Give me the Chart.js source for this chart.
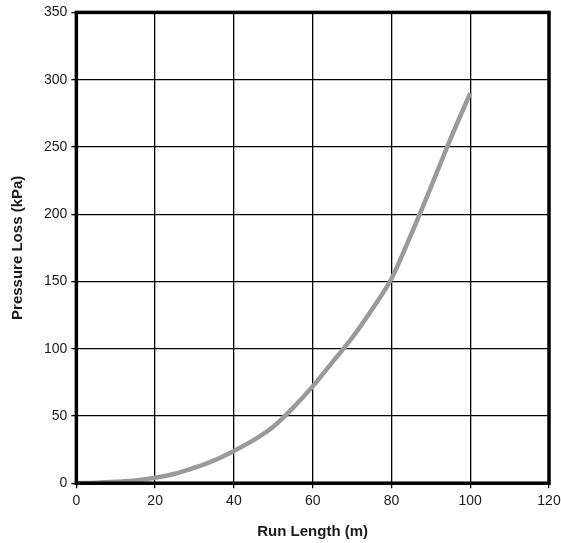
<!DOCTYPE html>
<html>
<head>
<meta charset="utf-8">
<script src="https://cdn.jsdelivr.net/npm/chart.js@4/dist/chart.umd.min.js"></script>
<style>
  html, body { margin: 0; padding: 0; background: #fff; }
  #wrap { width: 561px; height: 543px; }
</style>
</head>
<body>
<div id="wrap"><canvas id="chart"></canvas></div>
<script>
// run length (m) and pressure loss (kPa)
const runLength    = [0, 5, 10, 15, 20, 25, 30, 35, 40, 45, 50, 55, 60, 65, 70, 75, 80, 85, 90, 95, 100];
const pressureLoss = [0, 0.3, 1, 2, 4, 7, 11.5, 17, 24, 32, 42, 56, 72, 90, 108, 129, 152, 185, 220, 256, 290];
const xTicks = [0, 20, 40, 60, 80, 100, 120];
const yTicks = [0, 50, 100, 150, 200, 250, 300, 350];

const FONT = "'Liberation Sans', Arial, Helvetica, sans-serif";

// heavy black frame round the plot area
const frame = {
  id: 'frame',
  afterDraw(chart) {
    const { ctx, chartArea: a } = chart;
    ctx.save();
    ctx.strokeStyle = '#000';
    ctx.lineWidth = 3.5;
    ctx.strokeRect(a.left, a.top, a.right - a.left, a.bottom - a.top);
    ctx.restore();
  },
};

new Chart(document.getElementById('chart'), {
  type: 'line',
  data: {
    datasets: [{
      label: 'Pressure Loss',
      data: runLength.map((x, i) => ({ x, y: pressureLoss[i] })),
      borderColor: '#9a9a9a', borderWidth: 4.5, pointRadius: 0,
      tension: 0.3, cubicInterpolationMode: 'monotone', fill: false,
    }],
  },
  options: {
    responsive: true, maintainAspectRatio: false, animation: false,
    layout: { padding: { top: 12, right: 1, bottom: 0, left: 5 } },
    plugins: { legend: { display: false }, tooltip: { enabled: false } },
    scales: {
      x: {
        type: 'linear', min: 0, max: 120,
        afterBuildTicks: s => { s.ticks = xTicks.map(v => ({ value: v })); },
        afterFit: s => { s.paddingRight = 12; },
        grid: { color: '#000', lineWidth: 1.3, tickLength: 5, drawTicks: true },
        border: { display: false },
        ticks: { color: '#1a1a1a', font: { family: FONT, size: 14 }, padding: 5, maxRotation: 0 },
        title: { display: true, text: 'Run Length (m)', color: '#1a1a1a',
                 font: { family: FONT, size: 15, weight: 'bold' }, padding: { top: 8, bottom: 2 } },
      },
      y: {
        min: 0, max: 350,
        afterBuildTicks: s => { s.ticks = yTicks.map(v => ({ value: v })); },
        grid: { color: '#000', lineWidth: 1.3, tickLength: 5, drawTicks: true },
        border: { display: false },
        ticks: { color: '#1a1a1a', font: { family: FONT, size: 14 }, padding: 4 },
        title: { display: true, text: 'Pressure Loss (kPa)', color: '#1a1a1a',
                 font: { family: FONT, size: 15, weight: 'bold' }, padding: { bottom: 13 } },
      },
    },
  },
  plugins: [frame],
});
</script>
</body>
</html>
